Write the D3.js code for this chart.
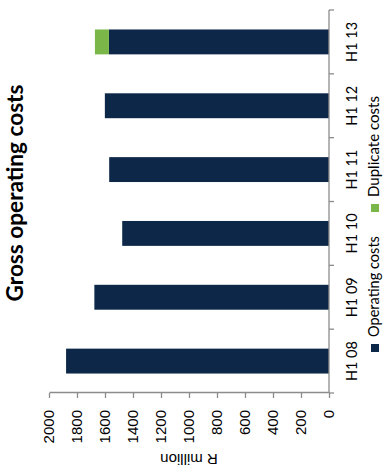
<!DOCTYPE html>
<html>
<head>
<meta charset="utf-8">
<script src="https://cdn.jsdelivr.net/npm/d3@7"></script>
<style>
  body { margin: 0; background: #fff; }
  svg { display: block; }
</style>
</head>
<body>
<svg id="chart" width="386" height="467"></svg>
<script>
// Half-year gross operating costs (R million)
const categories = ["H1 08", "H1 09", "H1 10", "H1 11", "H1 12", "H1 13"];
const operatingCosts = [1878, 1676, 1477, 1570, 1601, 1572];
const duplicateCosts = [0, 0, 0, 0, 0, 100];
const valueTicks = [0, 200, 400, 600, 800, 1000, 1200, 1400, 1600, 1800, 2000];
const seriesKeys = ["Operating costs", "Duplicate costs"];
const seriesColors = ["#0c2747", "#7ab648"];

const rows = categories.map((c, i) => ({
  category: c,
  "Operating costs": operatingCosts[i],
  "Duplicate costs": duplicateCosts[i]
}));

// The column chart is laid out landscape (W x H) and turned a quarter-turn
// counter-clockwise onto the portrait page.
const W = 467, H = 386;
const svg = d3.select("#chart");
const g = svg.append("g").attr("transform", `translate(0,${W}) rotate(-90)`);

const plot = { left: 74, right: 457, top: 49, bottom: 329 };
const axisColor = "#8c8c8c";
const calibriLike = "Lato, 'Open Sans', sans-serif";
const arialLike = "'Liberation Sans', Arial, sans-serif";

// Scale a text's font size so that it runs to the wanted length
function fitWidth(sel, width) {
  sel.each(function () {
    const size = parseFloat(this.style.fontSize);
    const len = this.getComputedTextLength();
    if (len > 0) this.style.fontSize = (size * width / len).toFixed(2) + "px";
  });
}

const x = d3.scaleBand()
  .domain(categories)
  .range([plot.left, plot.right])
  .paddingInner(0.61)
  .paddingOuter(0.305);

const y = d3.scaleLinear()
  .domain([0, 2000])
  .range([plot.bottom, plot.top]);

const color = d3.scaleOrdinal().domain(seriesKeys).range(seriesColors);

// Stacked columns
const stacked = d3.stack().keys(seriesKeys)(rows);
g.append("g")
  .selectAll("g")
  .data(stacked)
  .join("g")
  .attr("fill", d => color(d.key))
  .selectAll("rect")
  .data(d => d)
  .join("rect")
  .attr("x", d => x(d.data.category))
  .attr("width", x.bandwidth())
  .attr("y", d => y(d[1]))
  .attr("height", d => y(d[0]) - y(d[1]));

// Value axis
const yAxis = g.append("g")
  .attr("transform", `translate(${plot.left},0)`)
  .call(d3.axisLeft(y)
    .tickValues(valueTicks)
    .tickSize(5)
    .tickSizeOuter(0)
    .tickPadding(12)
    .tickFormat(d3.format("d")));
yAxis.select(".domain").attr("stroke", axisColor).attr("stroke-width", 1.3);
yAxis.selectAll(".tick line").attr("stroke", axisColor).attr("stroke-width", 1.3);
yAxis.selectAll(".tick text")
  .attr("fill", "#000")
  .style("font-family", arialLike)
  .style("font-size", "15px");

// Category axis with ticks on the band boundaries
const step = x.step();
const boundaries = [plot.left].concat(categories.map(c => x(c) + x.bandwidth() / 2 + step / 2));
const xAxis = g.append("g").attr("transform", `translate(0,${plot.bottom})`);
xAxis.append("line")
  .attr("x1", plot.left).attr("x2", plot.right)
  .attr("stroke", axisColor).attr("stroke-width", 1.3);
xAxis.selectAll("line.tick")
  .data(boundaries)
  .join("line")
  .attr("class", "tick")
  .attr("x1", d => d).attr("x2", d => d)
  .attr("y1", 0).attr("y2", 5)
  .attr("stroke", axisColor).attr("stroke-width", 1.3);
xAxis.selectAll("text")
  .data(categories)
  .join("text")
  .attr("x", d => x(d) + x.bandwidth() / 2)
  .attr("y", 28)
  .attr("text-anchor", "middle")
  .style("font-family", calibriLike)
  .style("font-size", "14.5px")
  .text(d => d);

// Title
g.append("text")
  .attr("x", 274)
  .attr("y", 23)
  .attr("text-anchor", "middle")
  .style("font-family", calibriLike)
  .style("font-weight", "bold")
  .style("font-size", "19px")
  .text("Gross operating costs")
  .call(fitWidth, 217);

// Value axis title
g.append("text")
  .attr("transform", `translate(13,${(plot.top + plot.bottom) / 2}) rotate(-90)`)
  .attr("text-anchor", "middle")
  .style("font-family", arialLike)
  .style("font-size", "15px")
  .text("R million");

// Legend
const legendX = [115, 255];
const legend = g.append("g")
  .selectAll("g")
  .data(seriesKeys)
  .join("g")
  .attr("transform", (d, i) => `translate(${legendX[i]},371)`);
legend.append("rect")
  .attr("width", 8).attr("height", 8)
  .attr("fill", d => color(d));
legend.append("text")
  .attr("x", 15)
  .attr("y", 8)
  .style("font-family", calibriLike)
  .style("font-size", "14.5px")
  .text(d => d)
  .call(fitWidth, 101);
</script>
</body>
</html>
